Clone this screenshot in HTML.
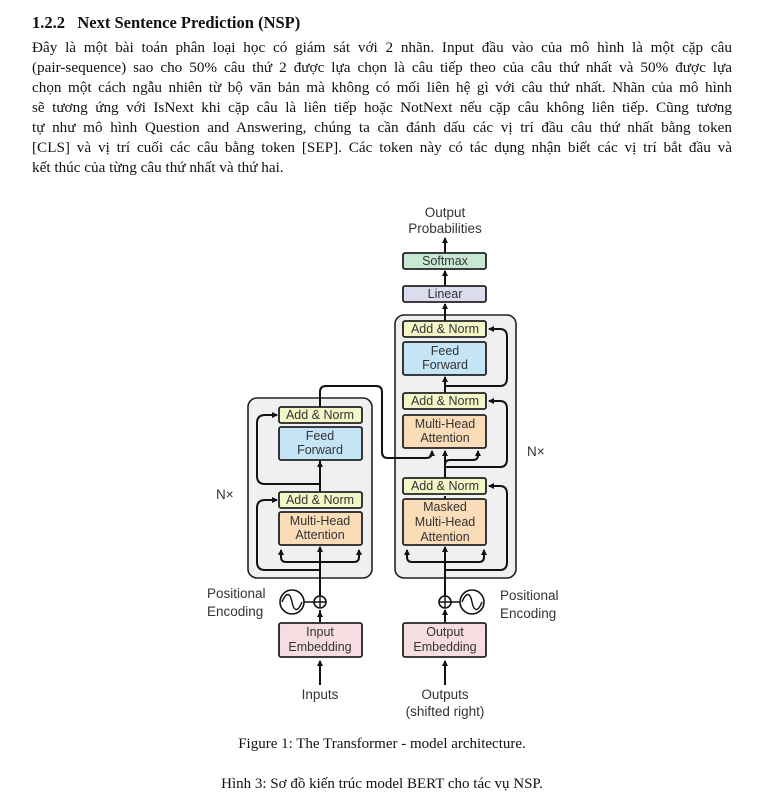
<!DOCTYPE html>
<html><head><meta charset="utf-8"><style>
body{margin:0;background:#fff;width:764px;height:804px;position:relative;overflow:hidden;font-family:"Liberation Serif",serif;color:#111}
.l{position:absolute;left:32px;width:700px;font-size:15.2px;line-height:20px;white-space:nowrap;text-align:justify;text-align-last:justify}
.l.last{text-align-last:left}
h3{position:absolute;left:32px;top:13px;margin:0;font-size:16.5px;font-weight:bold}
.cap{position:absolute;left:0;width:764px;text-align:center;font-size:15px}
svg{position:absolute;left:0;top:0}
svg text{font-family:"Liberation Sans",sans-serif;font-size:12.5px;fill:#333}
</style></head><body>
<h3>1.2.2&nbsp;&nbsp;&nbsp;Next Sentence Prediction (NSP)</h3>
<div class="l" style="top:38px">Đây là một bài toán phân loại học có giám sát với 2 nhãn. Input đầu vào của mô hình là một cặp câu</div>
<div class="l" style="top:58px">(pair-sequence) sao cho 50% câu thứ 2 được lựa chọn là câu tiếp theo của câu thứ nhất và 50% được lựa</div>
<div class="l" style="top:78px">chọn một cách ngẫu nhiên từ bộ văn bản mà không có mối liên hệ gì với câu thứ nhất. Nhãn của mô hình</div>
<div class="l" style="top:98px">sẽ tương ứng với IsNext khi cặp câu là liên tiếp hoặc NotNext nếu cặp câu không liên tiếp. Cũng tương</div>
<div class="l" style="top:118px">tự như mô hình Question and Answering, chúng ta cần đánh dấu các vị trí đầu câu thứ nhất bằng token</div>
<div class="l" style="top:138px">[CLS] và vị trí cuối các câu bằng token [SEP]. Các token này có tác dụng nhận biết các vị trí bắt đầu và</div>
<div class="l last" style="top:158px">kết thúc của từng câu thứ nhất và thứ hai.</div>

<svg width="764" height="804" viewBox="0 0 764 804">
<defs><marker id="a" markerWidth="6" markerHeight="6" refX="5" refY="3" orient="auto" markerUnits="userSpaceOnUse"><path d="M0,0L6,3L0,6z" fill="#111"/></marker></defs>
<g stroke="#222" stroke-width="1.6">
<rect x="248" y="398" width="124" height="180" rx="9" fill="#f0f0f0"/>
<rect x="395" y="315" width="121" height="263" rx="9" fill="#f0f0f0"/>
</g>
<g fill="none" stroke="#111" stroke-width="2">
<path d="M320,570 H265 Q257,570 257,562 V508 Q257,500 265,500 H277" marker-end="url(#a)"/>
<path d="M320,484 H265 Q257,484 257,476 V423 Q257,415 265,415 H277" marker-end="url(#a)"/>
<path d="M320,618 V612" marker-end="url(#a)"/>
<path d="M320,596 V547" marker-end="url(#a)"/>
<path d="M320,562 H286 Q281,562 281,557 V550" marker-end="url(#a)"/>
<path d="M320,562 H354 Q359,562 359,557 V550" marker-end="url(#a)"/>
<path d="M320,492 V462" marker-end="url(#a)"/>
<path d="M320,407 V392 Q320,386 326,386 H376 Q382,386 382,392 V452 Q382,458 388,458 H426 Q432,458 432,452"/>
<path d="M320,460 V487" />
<path d="M445,685 V661" marker-end="url(#a)"/>
<path d="M320,685 V661" marker-end="url(#a)"/>
<path d="M320,622 V610" />
<path d="M445,622 V610" marker-end="url(#a)"/>
<path d="M445,596 V547" marker-end="url(#a)"/>
<path d="M445,562 H412 Q407,562 407,557 V550" marker-end="url(#a)"/>
<path d="M445,562 H479 Q484,562 484,557 V550" marker-end="url(#a)"/>
<path d="M445,570 H500 Q507,570 507,562 V494 Q507,486 500,486 H489" marker-end="url(#a)"/>
<path d="M445,499 V496"/>
<path d="M445,478 V465 Q445,460 450,460 H473 Q478,460 478,455 V451" marker-end="url(#a)"/>
<path d="M445,465 V451" marker-end="url(#a)"/>
<path d="M432,452 V451" marker-end="url(#a)"/>
<path d="M445,467 H500 Q507,467 507,459 V409 Q507,401 500,401 H489" marker-end="url(#a)"/>
<path d="M445,393 V377" marker-end="url(#a)"/>
<path d="M445,386 H500 Q507,386 507,378 V337 Q507,329 500,329 H489" marker-end="url(#a)"/>
<path d="M445,321 V304" marker-end="url(#a)"/>
<path d="M445,286 V271" marker-end="url(#a)"/>
<path d="M445,253 V238" marker-end="url(#a)"/>
</g>
<g stroke="#222" stroke-width="1.8">
<rect x="279" y="407" width="83" height="16" rx="2" fill="#f3f6c7"/>
<rect x="279" y="427" width="83" height="33" rx="2" fill="#c5e5f7"/>
<rect x="279" y="492" width="83" height="16" rx="2" fill="#f3f6c7"/>
<rect x="279" y="512" width="83" height="33" rx="2" fill="#fbdcb8"/>
<rect x="403" y="253" width="83" height="16" rx="2" fill="#c7e8d3"/>
<rect x="403" y="286" width="83" height="16" rx="2" fill="#dcdcef"/>
<rect x="403" y="321" width="83" height="16" rx="2" fill="#f3f6c7"/>
<rect x="403" y="342" width="83" height="33" rx="2" fill="#c5e5f7"/>
<rect x="403" y="393" width="83" height="16" rx="2" fill="#f3f6c7"/>
<rect x="403" y="415" width="83" height="33" rx="2" fill="#fbdcb8"/>
<rect x="403" y="478" width="83" height="16" rx="2" fill="#f3f6c7"/>
<rect x="403" y="499" width="83" height="46" rx="2" fill="#fbdcb8"/>
<rect x="279" y="623" width="83" height="34" rx="2" fill="#f6dde2"/>
<rect x="403" y="623" width="83" height="34" rx="2" fill="#f6dde2"/>
</g>
<g fill="#fff" stroke="#111" stroke-width="1.6">
<circle cx="292" cy="602" r="12"/><circle cx="472" cy="602" r="12"/>
<circle cx="320" cy="602" r="6"/><circle cx="445" cy="602" r="6"/>
</g>
<g fill="none" stroke="#111" stroke-width="1.4">
<path d="M304,602 H314 M451,602 H460 M314,602 H326 M320,596 V608 M439,602 H451 M445,596 V608"/>
<path d="M282,602 C286,592 290,592 292,602 C294,612 298,612 302,602"/>
<path d="M462,602 C466,592 470,592 472,602 C474,612 478,612 482,602"/>
</g>
<g text-anchor="middle">
<text x="320" y="419">Add &amp; Norm</text>
<text x="320" y="440">Feed</text><text x="320" y="454">Forward</text>
<text x="320" y="504">Add &amp; Norm</text>
<text x="320" y="525">Multi-Head</text><text x="320" y="539">Attention</text>
<text x="445" y="265">Softmax</text>
<text x="445" y="298">Linear</text>
<text x="445" y="333">Add &amp; Norm</text>
<text x="445" y="355">Feed</text><text x="445" y="369">Forward</text>
<text x="445" y="405">Add &amp; Norm</text>
<text x="445" y="428">Multi-Head</text><text x="445" y="442">Attention</text>
<text x="445" y="490">Add &amp; Norm</text>
<text x="445" y="511">Masked</text><text x="445" y="526">Multi-Head</text><text x="445" y="541">Attention</text>
<text x="320" y="636">Input</text><text x="320" y="651">Embedding</text>
<text x="445" y="636">Output</text><text x="445" y="651">Embedding</text>
<text x="320" y="699" style="font-size:13.5px">Inputs</text>
<text x="445" y="699" style="font-size:13.5px">Outputs</text>
<text x="445" y="716" style="font-size:13.5px">(shifted right)</text>
<text x="445" y="217" style="font-size:13.5px">Output</text>
<text x="445" y="233" style="font-size:13.5px">Probabilities</text>
</g>
<g>
<text x="207" y="598" style="font-size:13.5px">Positional</text>
<text x="207" y="616" style="font-size:13.5px">Encoding</text>
<text x="500" y="600" style="font-size:13.5px">Positional</text>
<text x="500" y="618" style="font-size:13.5px">Encoding</text>
<text x="216" y="499" style="font-size:13.5px">N×</text>
<text x="527" y="456" style="font-size:13.5px">N×</text>
</g>
</svg>
<div class="cap" style="top:736px">Figure 1: The Transformer - model architecture.</div>
<div class="cap" style="top:776px">Hình 3: Sơ đồ kiến trúc model BERT cho tác vụ NSP.</div>
</body></html>
